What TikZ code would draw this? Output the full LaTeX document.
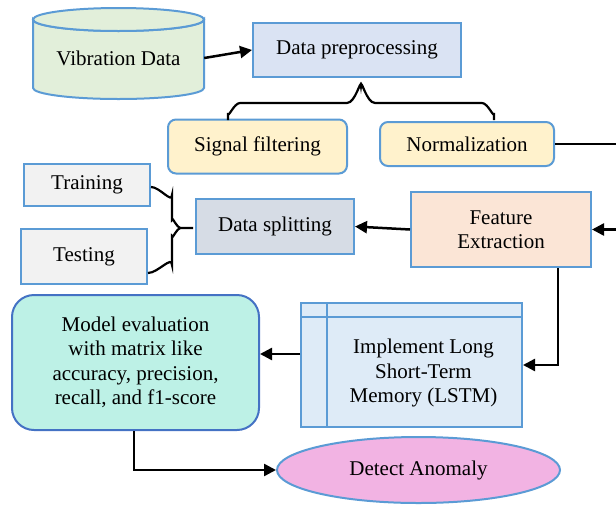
\documentclass[tikz,border=0pt]{standalone}
\usepackage{fontspec}
\setmainfont{Liberation Serif}
\usetikzlibrary{arrows.meta,calc,shapes.geometric}
\definecolor{bord}{HTML}{5B9BD5}
\definecolor{bordd}{HTML}{4472C4}
\definecolor{cylfill}{HTML}{E2EFDA}
\definecolor{dpfill}{HTML}{DAE3F3}
\definecolor{yfill}{HTML}{FFF2CC}
\definecolor{gfill}{HTML}{F2F2F2}
\definecolor{dsfill}{HTML}{D6DCE5}
\definecolor{fefill}{HTML}{FBE5D6}
\definecolor{mefill}{HTML}{BDF1E6}
\definecolor{lsfill}{HTML}{DEEBF7}
\definecolor{dafill}{HTML}{F2B3E3}
\begin{document}
\begin{tikzpicture}[x=1pt,y=-1pt,
  txt/.style={font=\fontsize{21}{24.5}\selectfont,align=center,inner sep=0pt},
  box/.style={txt,draw=bord,line width=2pt},
  arr/.style={line width=2.5pt,-{Triangle[length=12pt,width=12pt]}},
  ln/.style={line width=2.2pt}]
\useasboundingbox (0,0) rectangle (616,504);
\begin{scope}
\clip (0,0) rectangle (616,504);
% cylinder
\draw[draw=bord,line width=2pt,fill=cylfill] (33,19.5) -- (33,88) arc[start angle=180,end angle=0,x radius=85.5,y radius=11] -- (204,19.5) arc[start angle=0,end angle=180,x radius=85.5,y radius=11.5] -- cycle;
\draw[draw=bord,line width=2pt,fill=cylfill] (118.5,19.5) ellipse[x radius=85.5,y radius=11.5];
\node[txt,minimum width=171,minimum height=60] (vib) at (118.5,58) {Vibration Data};
% nodes
\node[box,fill=dpfill,minimum width=208,minimum height=54] (dp) at (357,50) {Data preprocessing};
\node[box,fill=yfill,rounded corners=8pt,minimum width=179,minimum height=54] (sf) at (257.5,146.5) {Signal filtering};
\node[box,fill=yfill,rounded corners=8pt,minimum width=174,minimum height=44] (norm) at (467,144) {Normalization};
\node[box,fill=gfill,minimum width=126,minimum height=42] (tr) at (87,185) {Training};
\node[box,fill=gfill,minimum width=126,minimum height=55] (te) at (84,256.5) {Testing};
\node[box,fill=dsfill,minimum width=158,minimum height=55] (ds) at (275,226.5) {Data splitting};
\node[box,fill=fefill,minimum width=180,minimum height=75] (fe) at (501,229.5) {Feature\\Extraction};
\node[box,draw=bordd,fill=mefill,rounded corners=22pt,minimum width=247,minimum height=135] (me) at (135.5,362.5) {Model evaluation\\with matrix like\\accuracy, precision,\\recall, and f1-score};
\node[box,fill=lsfill,minimum width=221,minimum height=124] (lstm) at (411.5,365) {};
\draw[draw=bord,line width=2pt] ($(lstm.north west)+(27,0)$) -- ($(lstm.south west)+(27,0)$);
\draw[draw=bord,line width=2pt] ($(lstm.north west)+(0,15)$) -- ($(lstm.north east)+(0,15)$);
\node[txt] (lstmt) at ($(lstm.center)+(12,8)$) {Implement Long\\Short-Term\\Memory (LSTM)};
\node[box,ellipse,fill=dafill,minimum width=283,minimum height=66] (da) at (418.5,470) {Detect Anomaly};
% braces
\draw[ln] (228,120) -- (228,113) to[out=-90,in=180] (240,103) -- (347,103) to[out=0,in=90] (361,86) to[out=90,in=180] (375,103) -- (482,103) to[out=0,in=-90] (494,113) -- (494,120);
\draw[ln] (tr.east |- 0,187) to[out=0,in=-90] (172,195) -- (172,220) to[out=90,in=180] (181,228) -- (193,228) -- (181,228) to[out=180,in=-90] (172,236) -- (172,265) to[out=90,in=0] (te.east |- 0,273);
% connectors
\draw[arr] (vib.east) -- (dp.west);
\coordinate (rt) at (632,144);
\draw[arr] (norm.east) -- (rt) |- (fe.east);
\draw[arr] (fe.west) -- (ds.east);
\coordinate (fd) at ($(fe.south east)+(-34,0)$);
\draw[arr] (fd) |- (lstm.east);
\coordinate (lx) at ($(lstm.west)+(0,-11)$);
\draw[arr] (lx) -- (lx -| me.east);
\coordinate (md) at ($(me.south west)+(123,0)$);
\draw[arr] (md) |- (da.west);
\end{scope}
\end{tikzpicture}
\end{document}
